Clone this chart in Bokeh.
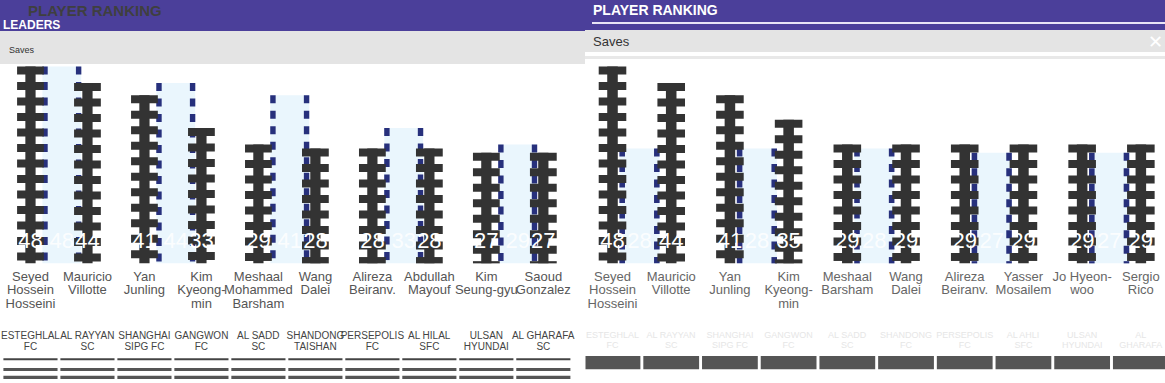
from bokeh.plotting import figure
from bokeh.models import Range1d, ColumnDataSource, Div
from bokeh.layouts import column, row
from bokeh.core.properties import value
from bokeh.embed import file_html
from bokeh.resources import INLINE

# ---------------- data ----------------
players_left = ["Seyed\nHossein\nHosseini", "Mauricio\nVillotte", "Yan\nJunling", "Kim\nKyeong-\nmin",
                "Meshaal\nMohammed\nBarsham", "Wang\nDalei", "Alireza\nBeiranv.", "Abdullah\nMayouf",
                "Kim\nSeung-gyu", "Saoud\nGonzalez"]
clubs_left = ["ESTEGHLAL\nFC", "AL RAYYAN\nSC", "SHANGHAI\nSIPG FC", "GANGWON\nFC", "AL SADD\nSC",
              "SHANDONG\nTAISHAN", "PERSEPOLIS\nFC", "AL HILAL\nSFC", "ULSAN\nHYUNDAI", "AL GHARAFA\nSC"]
saves_left = [48, 44, 41, 33, 29, 28, 28, 28, 27, 27]
top_saves_left = [48, 44, 41, 33, 29]

players_right = ["Seyed\nHossein\nHosseini", "Mauricio\nVillotte", "Yan\nJunling", "Kim\nKyeong-\nmin",
                 "Meshaal\nBarsham", "Wang\nDalei", "Alireza\nBeiranv.", "Yasser\nMosailem",
                 "Jo Hyeon-\nwoo", "Sergio\nRico"]
clubs_right = ["ESTEGHLAL\nFC", "AL RAYYAN\nSC", "SHANGHAI\nSIPG FC", "GANGWON\nFC", "AL SADD\nSC",
               "SHANDONG\nFC", "PERSEPOLIS\nFC", "AL AHLI\nSFC", "ULSAN\nHYUNDAI", "AL\nGHARAFA"]
saves_right = [48, 44, 41, 35, 29, 29, 29, 29, 29, 29]
low_saves_right = [28, 28, 28, 27, 27]

DARK = "#333333"
NAVY = "#27307C"
LIGHT = "#EAF6FD"
PURPLE = "#4B3F9A"
FONT = value("Liberation Sans")
PX = 4.1             # pixels per save (frame scale)
PERIOD = 15.5 / PX   # stripe period in data units
TOOTH = 8.0 / PX     # stripe thickness in data units


def teeth(xs, tops):
    sx, sb, st = [], [], []
    for x, t in zip(xs, tops):
        y = t
        while y > 0:
            sx.append(x)
            st.append(y)
            sb.append(max(y - TOOTH, 0))
            y -= PERIOD
    return dict(x=sx, bottom=sb, top=st)


def make_fig(width, x_start, x_end, saves, light_vals, light_offset, names, clubs,
             name_color, club_color, club_size, bottom_style):
    p = figure(width=width, height=319, x_range=Range1d(x_start, x_end),
               y_range=Range1d(-29.3, 48.5), output_backend="svg", toolbar_location=None,
               min_border=0)
    p.axis.visible = False
    p.grid.visible = False
    p.outline_line_color = None
    p.background_fill_color = "white"
    p.border_fill_color = "white"

    idx = list(range(len(saves)))
    src = ColumnDataSource(dict(x=idx, saves=saves, label=[str(v) for v in saves],
                                name=names, club=clubs))
    lx = [2 * i + light_offset for i in range(len(light_vals))]
    lsrc = ColumnDataSource(dict(x=lx, saves=light_vals, label=[str(v) for v in light_vals]))

    # light bars with striped navy edges
    p.vbar(x="x", top="saves", bottom=0, width=0.68, source=lsrc,
           fill_color=LIGHT, line_color=None)
    edges_x = [v - 0.295 for v in lx] + [v + 0.295 for v in lx]
    edges_t = list(light_vals) + list(light_vals)
    p.vbar(x="x", top="top", bottom="bottom", width=0.095,
           source=ColumnDataSource(teeth(edges_x, edges_t)), fill_color=NAVY, line_color=None)
    p.text(x="x", y=5.6, text="label", source=lsrc, text_color="white", text_alpha=0.85,
           text_font_size="22px", text_align="center", text_baseline="middle", text_font=FONT)

    # dark comb-like bars
    p.vbar(x="x", top="top", bottom="bottom", width=0.47,
           source=ColumnDataSource(teeth(idx, saves)), fill_color=DARK, line_color=None)
    p.vbar(x="x", top="saves", bottom=0, width=0.18, source=src, fill_color=DARK, line_color=None)
    p.text(x="x", y=5.6, text="label", source=src, text_color="white",
           text_font_size="22px", text_align="center", text_baseline="middle", text_font=FONT)

    # names and clubs
    p.text(x="x", y=-1.3, text="name", source=src, text_color=name_color, text_font_size="13px",
           text_align="center", text_baseline="top", text_line_height=0.9, text_font=FONT)
    p.text(x="x", y=-16.2, text="club", source=src, text_color=club_color,
           text_font_size=club_size, text_align="center", text_baseline="top",
           text_line_height=1.0, text_font=FONT)

    # bottom rules
    if bottom_style == "lines":
        p.rect(x="x", y=-23.4, width=0.95, height=0.5, source=src, fill_color="#444444",
               line_color=None)
        p.rect(x="x", y=-25.9, width=0.95, height=0.75, source=src, fill_color="#555555",
               line_color=None)
        p.rect(x="x", y=-27.8, width=0.95, height=0.75, source=src, fill_color="#555555",
               line_color=None)
    else:
        p.rect(x="x", y=-24.2, width=0.95, height=3.2, source=src, fill_color="#555555",
               line_color=None)
    return p


left = make_fig(585, -0.526, 9.74, saves_left, top_saves_left, 0.55, players_left, clubs_left,
                "#555555", "#444444", "10px", "lines")
right = make_fig(580, -0.46, 9.42, saves_right, low_saves_right, 0.46, players_right, clubs_right,
                 "#666666", "#E6E6E6", "9px", "blocks")

left_head = Div(width=585, height=64, styles={"margin": "0", "padding": "0"}, text=(
    '<div style="width:585px;height:31px;background:%s;position:relative;overflow:hidden">'
    '<span style="position:absolute;left:28px;top:2px;font:bold 15px \'Liberation Sans\';color:#3f3f3f">PLAYER RANKING</span>'
    '<span style="position:absolute;left:3px;top:18px;font:bold 12px \'Liberation Sans\';color:#ffffff">LEADERS</span>'
    '</div>'
    '<div style="width:585px;height:33px;background:#E4E4E4;position:relative">'
    '<span style="position:absolute;left:9px;top:14px;font:9px \'Liberation Sans\';color:#333">Saves</span>'
    '</div>') % PURPLE)

right_head = Div(width=580, height=64, styles={"margin": "0", "padding": "0"}, text=(
    '<div style="width:580px;height:22px;background:%s;position:relative;overflow:hidden">'
    '<span style="position:absolute;left:8px;top:2px;font:bold 14px \'Liberation Sans\';color:#ffffff">PLAYER RANKING</span>'
    '</div>'
    '<div style="width:580px;height:2px;background:%s"><div style="margin-left:7px;height:2px;background:#e8e4f5"></div></div>'
    '<div style="width:580px;height:6px;background:%s"></div>'
    '<div style="width:580px;height:22px;background:#E4E4E4;position:relative">'
    '<span style="position:absolute;left:8px;top:4px;font:13px \'Liberation Sans\';color:#333">Saves</span>'
    '<span style="position:absolute;right:2px;top:1px;font:18px \'Liberation Sans\';color:#fff">&#x2715;</span>'
    '</div>'
    '<div style="width:580px;height:4px;background:#fff"></div>'
    '<div style="width:580px;height:3px;background:#E8E8E8"></div>'
    '<div style="width:580px;height:5px;background:#fff"></div>') % (PURPLE, PURPLE, PURPLE))

layout = row(column(left_head, left), column(right_head, right))

open("out.html", "w").write(file_html(layout, INLINE))
